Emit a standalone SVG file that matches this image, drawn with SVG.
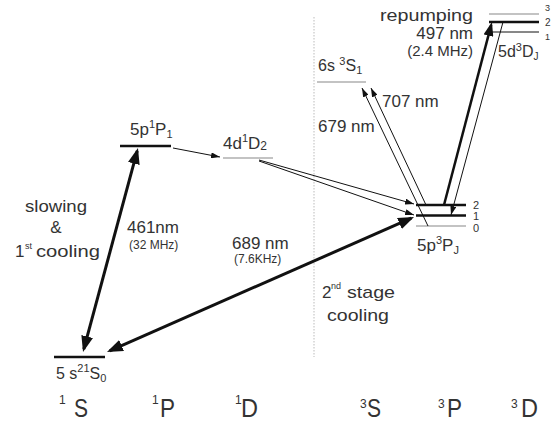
<svg xmlns="http://www.w3.org/2000/svg" width="559" height="424" viewBox="0 0 559 424">
<defs>
<style>
text{font-family:"Liberation Sans",Arial,sans-serif;fill:#333}
.t17{font-size:17px}
.t16{font-size:16px}
.t15{font-size:15px}
.t12{font-size:12px}
.t11{font-size:11px}
.t10{font-size:10px}
.t9{font-size:9px}
.big{font-size:26px}
.sm{font-size:11px}
.lv{stroke:#111;stroke-width:2.5}
.lg{stroke:#888;stroke-width:1.2}
.lt{stroke:#111;stroke-width:1}
.thick{stroke:#111;stroke-width:3;fill:none}
.mid{stroke:#111;stroke-width:2.5;fill:none}
.thin{stroke:#111;stroke-width:1;fill:none}
</style>
<marker id="ab" markerUnits="userSpaceOnUse" viewBox="0 0 16 12" markerWidth="16" markerHeight="12" refX="13" refY="6" orient="auto-start-reverse"><path d="M0,0 L16,6 L0,12 z" fill="#111"/></marker>
<marker id="am" markerUnits="userSpaceOnUse" viewBox="0 0 14 10" markerWidth="14" markerHeight="10" refX="11" refY="5" orient="auto-start-reverse"><path d="M0,0 L14,5 L0,10 z" fill="#111"/></marker>
<marker id="as" markerUnits="userSpaceOnUse" viewBox="0 0 9 6" markerWidth="9" markerHeight="6" refX="9" refY="3" orient="auto-start-reverse"><path d="M0,0 L9,3 L0,6 z" fill="#111"/></marker>
</defs>
<rect width="559" height="424" fill="#fff"/>

<line x1="314" y1="17" x2="314" y2="357" stroke="#bbb" stroke-width="1" stroke-dasharray="1.5,1.5"/>

<g id="level-5s1S0">
<line class="lv" x1="54" y1="357" x2="105" y2="357"/>
<text class="t16" x="56" y="379" fill="#555">5 s<tspan class="sm" dy="-7">21</tspan><tspan dy="7">S</tspan><tspan class="sm" dy="3">0</tspan></text>
</g>

<g id="level-5p1P1">
<line class="lv" x1="120" y1="146" x2="171" y2="146"/>
<text class="t17" x="130" y="135">5p<tspan class="sm" dy="-7">1</tspan><tspan dy="7">P</tspan><tspan class="sm" dy="3">1</tspan></text>
</g>

<g id="level-4d1D2">
<line class="lg" x1="223" y1="158" x2="273" y2="158"/>
<text class="t17" x="223" y="149">4d<tspan class="sm" dy="-7">1</tspan><tspan dy="7">D</tspan><tspan class="t12" dy="1">2</tspan></text>
</g>

<g id="level-6s3S1">
<line class="lg" x1="317" y1="82" x2="366" y2="82"/>
<text class="t16" x="318" y="71">6s <tspan class="sm" dy="-6">3</tspan><tspan dy="6">S</tspan><tspan class="sm" dy="3">1</tspan></text>
</g>

<g id="level-5p3PJ">
<line class="lv" x1="416" y1="205" x2="466" y2="205"/>
<line class="lv" x1="416" y1="215.5" x2="466" y2="215.5"/>
<line class="lg" x1="416" y1="226" x2="466" y2="226"/>
<text class="t11" x="473" y="208.5">2</text>
<text class="t11" x="473" y="220">1</text>
<text class="t11" x="473" y="231.5">0</text>
<text class="t17" x="417" y="251">5p<tspan class="sm" dy="-7">3</tspan><tspan dy="7">P</tspan><tspan class="sm" dy="3">J</tspan></text>
</g>

<g id="level-5d3DJ">
<line class="lg" x1="489" y1="14" x2="539" y2="14"/>
<line class="lv" x1="489" y1="22" x2="539" y2="22"/>
<line class="lt" x1="489" y1="32" x2="539" y2="32"/>
<text class="t9" x="545" y="11">3</text>
<text class="t10" x="545" y="26">2</text>
<text class="t9" x="545" y="40">1</text>
<text class="t16" x="498" y="57">5d<tspan class="sm" dy="-6">3</tspan><tspan dy="6">D</tspan><tspan class="t10" dy="3">J</tspan></text>
</g>

<g id="connectors">
<line class="thick" x1="83.8" y1="349.1" x2="137.2" y2="150.9" marker-start="url(#ab)" marker-end="url(#ab)"/>
<line class="thick" x1="109.7" y1="350.8" x2="411.3" y2="218.2" marker-start="url(#ab)" marker-end="url(#ab)"/>
<line class="mid" x1="444" y1="205" x2="491.2" y2="24.9" marker-end="url(#am)"/>
<line class="thin" x1="173" y1="148" x2="220" y2="157" marker-end="url(#as)"/>
<line class="thin" x1="259" y1="160" x2="414" y2="204" marker-end="url(#as)"/>
<line class="thin" x1="259" y1="161" x2="414" y2="215" marker-end="url(#as)"/>
<line class="thin" x1="426" y1="205" x2="371" y2="88" marker-end="url(#as)"/>
<line class="thin" x1="428" y1="226" x2="362" y2="88" marker-end="url(#as)"/>
<line class="thin" x1="503" y1="22" x2="451" y2="215" marker-end="url(#as)"/>
</g>

<g id="labels">
<text class="t17" x="56" y="212" text-anchor="middle" textLength="62" lengthAdjust="spacingAndGlyphs">slowing</text>
<text class="t17" x="56" y="233" text-anchor="middle">&amp;</text>
<text class="t17" x="15" y="257">1</text>
<text class="t9" x="25" y="249">st</text>
<text class="t17" x="36" y="257" textLength="64" lengthAdjust="spacingAndGlyphs">cooling</text>
<text class="t17" x="127" y="233">461nm</text>
<text class="t12" x="129" y="249">(32 MHz)</text>
<text class="t17" x="232" y="249">689 nm</text>
<text class="t12" x="234" y="263">(7.6KHz)</text>
<text class="t17" x="322" y="298">2</text>
<text class="t9" x="331" y="289">nd</text>
<text class="t17" x="347" y="298" textLength="48" lengthAdjust="spacingAndGlyphs">stage</text>
<text class="t17" x="327" y="321" textLength="62" lengthAdjust="spacingAndGlyphs">cooling</text>
<text class="t17" x="318" y="132">679 nm</text>
<text class="t17" x="382" y="107">707 nm</text>
<text class="t16" x="473" y="21" text-anchor="end" textLength="93" lengthAdjust="spacingAndGlyphs">repumping</text>
<text class="t17" x="473" y="38.5" text-anchor="end">497 nm</text>
<text class="t15" x="473" y="56" text-anchor="end">(2.4 MHz)</text>
</g>

<g id="series-labels">
<text class="t12" x="59" y="404">1</text>
<text class="big" x="74" y="417" textLength="14" lengthAdjust="spacingAndGlyphs">S</text>
<text class="t12" x="152" y="404">1</text>
<text class="big" x="160" y="417" textLength="15" lengthAdjust="spacingAndGlyphs">P</text>
<text class="t12" x="235" y="404">1</text>
<text class="big" x="241" y="417" textLength="17" lengthAdjust="spacingAndGlyphs">D</text>
<text class="t12" x="360" y="408">3</text>
<text class="big" x="367" y="417" textLength="14" lengthAdjust="spacingAndGlyphs">S</text>
<text class="t12" x="438" y="408">3</text>
<text class="big" x="447" y="417" textLength="15" lengthAdjust="spacingAndGlyphs">P</text>
<text class="t12" x="511" y="408">3</text>
<text class="big" x="521" y="417" textLength="17" lengthAdjust="spacingAndGlyphs">D</text>
</g>
</svg>
